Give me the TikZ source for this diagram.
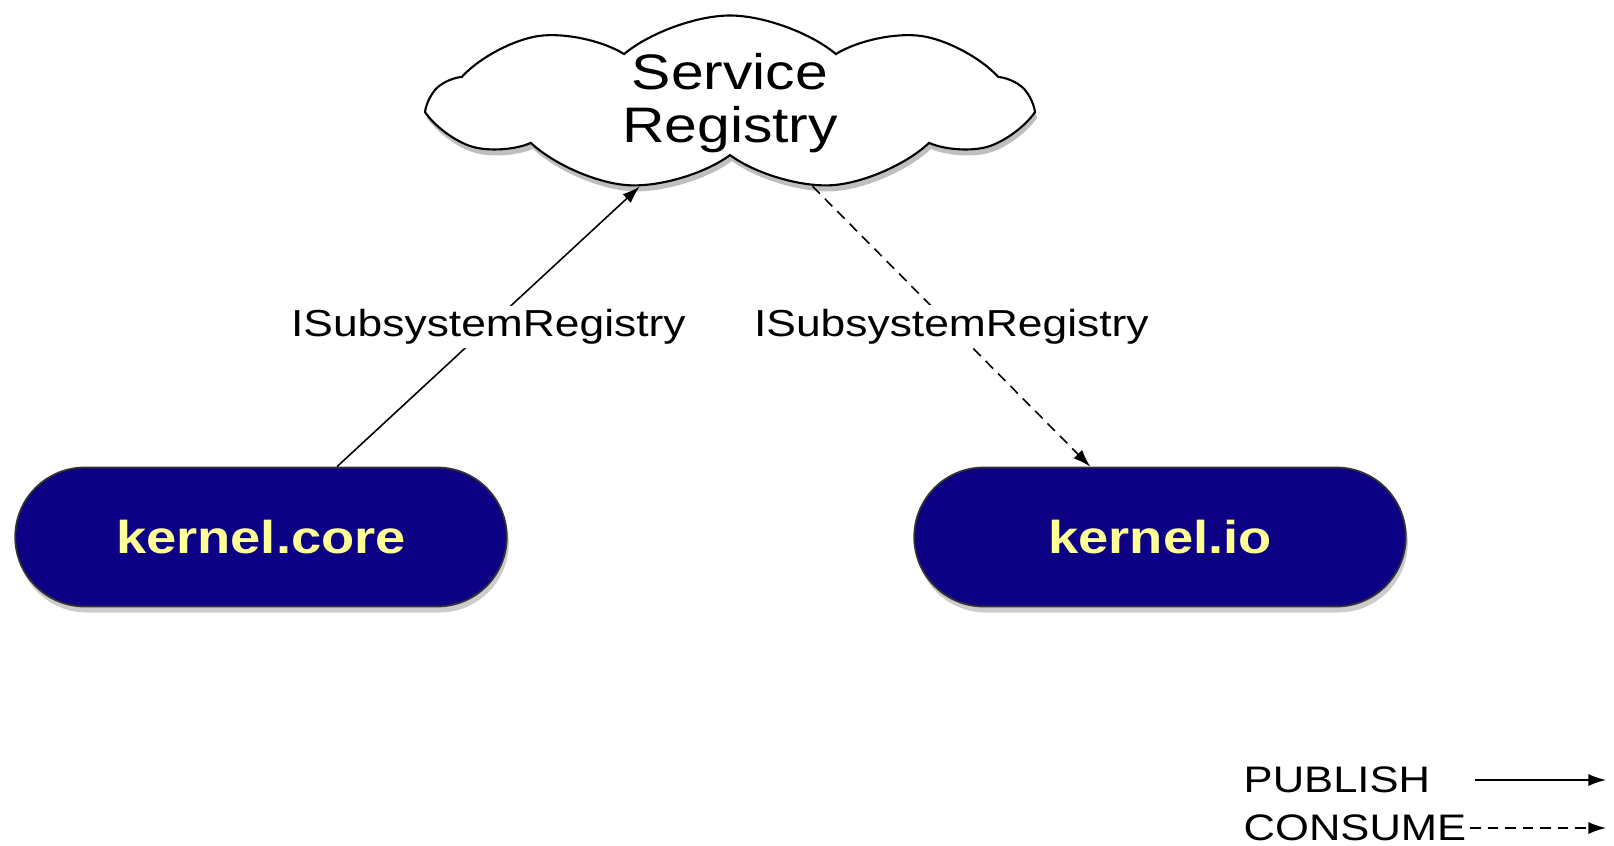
\documentclass[tikz,border=0pt]{standalone}
\usepackage{fontspec}
\setmainfont[FakeStretch=1.18]{Liberation Sans}
\usetikzlibrary{shapes.symbols,shapes.misc,shadows,arrows.meta,positioning}

\definecolor{bundleblue}{RGB}{12,0,132}
\definecolor{bundletext}{RGB}{255,255,150}

\tikzset{
  bundle/.style={rounded rectangle, draw=black!80, line width=0.5pt,
    fill=bundleblue, text=bundletext,
    font=\fontsize{13.1}{15}\selectfont\bfseries,
    minimum width=5.15cm, minimum height=1.39cm,
    drop shadow={shadow xshift=0.02cm, shadow yshift=-0.06cm, opacity=0.4}},
  registry/.style={cloud, cloud puffs=9, cloud puff arc=80, cloud ignores aspect,
    draw, line width=0.6pt, fill=white, align=center,
    font=\fontsize{14.2}{15}\selectfont, inner ysep=0pt,
    minimum width=5.95cm, minimum height=1.75cm,
    drop shadow={shadow xshift=0.02cm, shadow yshift=-0.06cm, opacity=0.5}},
  publish/.style={-{Latex[length=5pt,width=3.4pt]}, line width=0.45pt},
  consume/.style={publish, dash pattern=on 3pt off 2pt},
  iface/.style={fill=white, inner sep=1pt, font=\fontsize{10.7}{12}\selectfont},
  legend/.style={anchor=west, inner sep=0pt, font=\fontsize{10.5}{12}\selectfont}
}

\begin{document}
\begin{tikzpicture}
    \useasboundingbox (0,0) rectangle (16.14,8.45);

    % Registry and bundles
    \node[registry] (reg) at (7.30,7.42) {Service\\Registry};
    \node[bundle] (core) at (2.61,3.08) {kernel.core};
    \node[bundle] (io) at (11.60,3.08) {kernel.io};

    % Publish and consume
    \draw[publish] (core) -- node[iface] {ISubsystemRegistry} (reg);
    \draw[consume] (reg) -- node[iface] {ISubsystemRegistry} (io);

    % Legend
    \node[legend] (pub) at (12.43,0.65) {PUBLISH};
    \node[legend] (con) at (12.43,0.17) {CONSUME};
    \coordinate (pubstart) at (14.75,0.65);
    \coordinate (pubend) at (16.06,0.65);
    \coordinate (conend) at (16.06,0.17);
    \draw[publish] (pubstart) -- (pubend);
    \draw[consume] ([xshift=0.03cm]con.east) -- (conend);

\end{tikzpicture}
\end{document}
